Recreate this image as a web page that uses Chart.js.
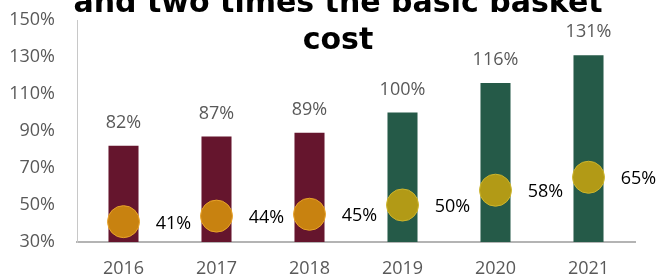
<!DOCTYPE html>
<html>
<head>
<meta charset="utf-8">
<script src="https://cdn.jsdelivr.net/npm/chart.js@4/dist/chart.umd.min.js"></script>
<style>
  html, body { margin: 0; padding: 0; background: #fff; overflow: hidden; }
  #wrap { position: relative; width: 656px; height: 278px; overflow: hidden; }
  #title {
    position: absolute; left: 10px; top: -17px; width: 656px;
    text-align: center; font-family: "DejaVu Sans", sans-serif; font-weight: bold;
    font-size: 30px; line-height: 37px; color: #000; z-index: 2; pointer-events: none;
  }
</style>
</head>
<body>
<div id="wrap">
  <canvas id="c" width="656" height="278"></canvas>
  <div id="title">and two times the basic basket<br>cost</div>
</div>
<script>
const categories = ["2016", "2017", "2018", "2019", "2020", "2021"];
const barValues = [82, 87, 89, 100, 116, 131];
const circleValues = [41, 44, 45, 50, 58, 65];
const yTicks = [30, 50, 70, 90, 110, 130, 150];

const barColors = ["#65152D", "#65152D", "#65152D", "#255A48", "#255A48", "#255A48"];
const circleColors = ["#C88210", "#C88210", "#C88210", "#B29A16", "#B29A16", "#B29A16"];
const circleBorders = ["#E7A22A", "#E7A22A", "#E7A22A", "#CDB52C", "#CDB52C", "#CDB52C"];

const labelPlugin = {
  id: "valueLabels",
  afterDatasetsDraw(chart) {
    const ctx = chart.ctx;
    ctx.save();
    ctx.font = "18px 'Open Sans'";
    ctx.textAlign = "center";
    ctx.textBaseline = "middle";
    const barMeta = chart.getDatasetMeta(1);
    barMeta.data.forEach((el, i) => {
      ctx.fillStyle = "#595959";
      ctx.fillText(barValues[i] + "%", el.x, el.y - 23);
    });
    const ptMeta = chart.getDatasetMeta(0);
    ptMeta.data.forEach((el, i) => {
      ctx.fillStyle = "#000";
      ctx.fillText(circleValues[i] + "%", el.x + 50, el.y + 2);
    });
    ctx.restore();
  }
};

new Chart(document.getElementById("c"), {
  type: "bar",
  data: {
    labels: categories,
    datasets: [
      {
        type: "line",
        data: circleValues,
        showLine: false,
        pointRadius: 16,
        pointHoverRadius: 16,
        pointBackgroundColor: circleColors,
        pointBorderColor: circleBorders,
        pointBorderWidth: 1,
        order: 0,
        clip: false
      },
      {
        type: "bar",
        data: barValues,
        backgroundColor: barColors,
        categoryPercentage: 1,
        barPercentage: 0.323,
        order: 1
      }
    ]
  },
  options: {
    responsive: false,
    animation: false,
    devicePixelRatio: 1,
    layout: { padding: { left: 0, right: 21, top: 20, bottom: 0 } },
    plugins: { legend: { display: false }, tooltip: { enabled: false }, title: { display: false } },
    scales: {
      x: {
        grid: { display: false, drawTicks: false },
        border: { display: true, color: "#B4B4B4", width: 2 },
        ticks: { color: "#595959", font: { family: "'Open Sans'", size: 18 }, padding: 16, maxRotation: 0 },
        afterFit(scale) { scale.height = 36; scale.paddingLeft = 0; scale.paddingRight = 0; }
      },
      y: {
        min: 30, max: 150,
        grid: { display: false, drawTicks: false },
        border: { display: true, color: "#C8C8C8", width: 1 },
        afterBuildTicks(scale) { scale.ticks = yTicks.map(v => ({ value: v })); },
        ticks: {
          color: "#595959", font: { family: "'Open Sans'", size: 18 }, padding: 22,
          callback: v => v + "%"
        },
        afterFit(scale) { scale.width = 77; scale.paddingTop = 0; scale.paddingBottom = 0; }
      }
    }
  },
  plugins: [labelPlugin]
});
</script>
</body>
</html>
